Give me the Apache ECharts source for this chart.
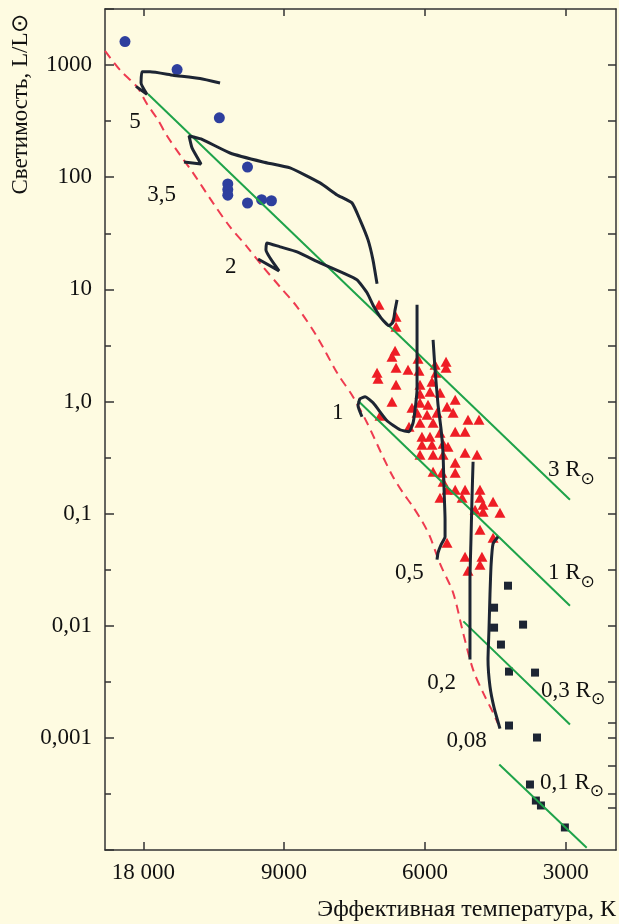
<!DOCTYPE html>
<html>
<head>
<meta charset="utf-8">
<script src="https://cdn.jsdelivr.net/npm/echarts@6/dist/echarts.min.js"></script>
<style>
  html, body { margin: 0; padding: 0; background: #fefbe1; }
  #chart { width: 619px; height: 924px; }
</style>
</head>
<body>
<div id="chart"></div>
<script>
// x: position on the temperature axis (0 = 18 000 K, 1 = 9000 K, 2 = 6000 K, 3 = 3000 K)
// y: log10(L / Lsun)
const xTicks = [0, 1, 2, 3]
const xTickLabels = ['18 000', '9000', '6000', '3000']
const yTickValues = [-3, -2, -1, 0, 1, 2, 3]
const yTickLabels = ['0,001', '0,01', '0,1', '1,0', '10', '100', '1000']
const rightTicks = [-3.621, -3.5, -3.247, -3, -2.864, -2.5, -2, -1.5, -1, -0.5, 0, 0.5, 1, 1.5, 2, 2.5, 3]

// evolutionary tracks (masses in Msun)
const track5 = [[-0.052, 2.81], [0.026, 2.74], [-0.016, 2.84], [-0.009, 2.94], [0.048, 2.94], [0.211, 2.91], [0.403, 2.88], [0.545, 2.84]]
const track35 = [[0.289, 2.136], [0.41, 2.118], [0.346, 2.261], [0.325, 2.368], [0.41, 2.341], [0.616, 2.216], [0.85, 2.136], [1.042, 2.083],
  [1.255, 1.949], [1.376, 1.842], [1.482, 1.771], [1.539, 1.62], [1.596, 1.441], [1.631, 1.263], [1.66, 1.049]]
const track2 = [[0.815, 1.27], [0.964, 1.165], [0.871, 1.352], [0.878, 1.414], [0.971, 1.379], [1.092, 1.334], [1.255, 1.236], [1.418, 1.147],
  [1.518, 1.085], [1.589, 0.969], [1.638, 0.844], [1.688, 0.746], [1.745, 0.675], [1.774, 0.71], [1.788, 0.817], [1.802, 0.906]]
const track1 = [[1.553, -0.136], [1.525, -0.038], [1.539, 0.024], [1.575, 0.042], [1.632, -0.012], [1.731, -0.172], [1.823, -0.252],
  [1.887, -0.27], [1.916, -0.19], [1.93, -0.074], [1.944, 0.104], [1.944, 0.399], [1.944, 0.702], [1.944, 0.862]]
const track05 = [[2.058, 0.55], [2.072, 0.283], [2.093, -0.029], [2.115, -0.252], [2.129, -0.475], [2.136, -0.787], [2.143, -1.054],
  [2.143, -1.206], [2.115, -1.277], [2.093, -1.349], [2.086, -1.411]]
const track02 = [[2.342, -0.537], [2.334, -0.876], [2.327, -1.233], [2.32, -1.589], [2.32, -1.946], [2.32, -2.302]]
const track008 = [[2.519, -1.206], [2.484, -1.268], [2.47, -1.455], [2.462, -1.723], [2.455, -2.034], [2.448, -2.302], [2.462, -2.542],
  [2.491, -2.73], [2.533, -2.917]]

// red dashed line
const zams = [[-0.272, 3.126], [-0.165, 2.956], [-0.045, 2.805], [0.026, 2.654], [0.104, 2.511], [0.168, 2.369], [0.261, 2.199],
  [0.353, 2.039], [0.495, 1.771], [0.616, 1.557], [0.737, 1.379], [0.85, 1.201], [0.971, 1.022], [1.092, 0.844], [1.234, 0.577],
  [1.376, 0.256], [1.489, 0.042], [1.589, -0.19], [1.702, -0.493], [1.773, -0.671], [1.844, -0.814], [1.915, -0.939], [1.986, -1.082],
  [2.036, -1.206], [2.107, -1.447], [2.2, -1.705], [2.271, -2.062], [2.342, -2.392], [2.413, -2.597], [2.484, -2.775], [2.519, -2.873]]

// constant radius lines
const radius3 = [[0.033, 2.742], [3.03, -0.876]]
const radius1 = [[1.525, 0.006], [3.03, -1.821]]
const radius03 = [[2.273, -1.961], [3.03, -2.881]]
const radius01 = [[2.528, -3.238], [3.149, -3.98]]

const hotStars = [[-0.13, 3.21], [0.24, 2.96], [0.54, 2.53], [0.74, 2.09], [0.6, 1.94], [0.6, 1.89], [0.6, 1.84], [0.74, 1.77], [0.84, 1.8], [0.91, 1.79]]
const solarStars = [[1.674, 0.862], [1.795, 0.755], [1.795, 0.666], [1.788, 0.452], [1.766, 0.398], [1.951, 0.381], [1.795, 0.3],
  [1.88, 0.283], [1.958, 0.274], [2.072, 0.327], [2.15, 0.354], [2.15, 0.3], [2.079, 0.256], [1.66, 0.256], [1.667, 0.202],
  [1.795, 0.149], [1.965, 0.149], [2.05, 0.176], [2.036, 0.086], [1.965, 0.069], [2.107, 0.078], [1.766, -0.003], [2.215, 0.015],
  [1.965, -0.012], [1.908, -0.056], [2.022, -0.029], [2.157, -0.047], [1.681, -0.128], [1.944, -0.101], [2.015, -0.119],
  [2.086, -0.101], [2.2, -0.101], [2.306, -0.163], [2.384, -0.163], [1.887, -0.225], [1.965, -0.19], [2.058, -0.19], [2.107, -0.279],
  [2.215, -0.27], [2.285, -0.27], [1.979, -0.314], [2.036, -0.314], [1.979, -0.386], [2.05, -0.386], [2.129, -0.377], [2.164, -0.404],
  [1.965, -0.475], [2.058, -0.475], [2.129, -0.475], [2.285, -0.457], [2.37, -0.475], [2.215, -0.546], [2.058, -0.627], [2.121, -0.635],
  [2.215, -0.635], [2.129, -0.716], [2.157, -0.787], [2.215, -0.787], [2.285, -0.787], [2.391, -0.787], [2.107, -0.858], [2.264, -0.858],
  [2.391, -0.858], [2.413, -0.921], [2.484, -0.894], [2.356, -0.965], [2.413, -0.983], [2.533, -0.992], [2.391, -1.143], [2.484, -1.215],
  [2.157, -1.259], [2.285, -1.384], [2.405, -1.384], [2.391, -1.456], [2.306, -1.509]]
const coolStars = [[2.59, -1.643], [2.491, -1.839], [2.491, -2.017], [2.697, -1.99], [2.54, -2.168], [2.597, -2.409], [2.782, -2.418],
  [2.597, -2.89], [2.796, -2.997], [2.746, -3.416], [2.788, -3.559], [2.824, -3.603], [2.994, -3.799]]

const massNames = ['5', '3,5', '2', '1', '0,5', '0,2', '0,08']
const massAt = [[-0.059, 2.496], [0.131, 1.842], [0.621, 1.203], [1.381, -0.103], [1.889, -1.529], [2.119, -2.51], [2.297, -3.03]]
const radiusNames = ['3 R{s|⊙}', '1 R{s|⊙}', '0,3 R{s|⊙}', '0,1 R{s|⊙}']
const radiusAt = [[2.874, -0.61], [2.874, -1.527], [2.825, -2.578], [2.817, -3.398]]

const serif = 'Liberation Serif'
const ink = '#1d2533'
const axisColor = '#333333'
const textColor = '#111111'

function trackSeries(data) {
  return {
    type: 'line', data: data, showSymbol: false, smooth: 0.15, silent: true,
    lineStyle: { color: ink, width: 3 }
  }
}
function radiusSeries(data) {
  return {
    type: 'line', data: data, showSymbol: false, silent: true,
    lineStyle: { color: '#1ea34a', width: 2 }
  }
}
function frameAxis(extra) {
  return Object.assign({
    type: 'value',
    splitLine: { show: false },
    axisLine: { onZero: false, lineStyle: { color: axisColor, width: 1.5 } }
  }, extra)
}

const sunRich = {
  s: { fontFamily: 'DejaVu Sans', fontSize: 17, color: textColor, verticalAlign: 'bottom', lineHeight: 36 }
}

let chart = echarts.init(document.getElementById('chart'))
chart.setOption({
  backgroundColor: '#fefbe1',
  animation: false,
  grid: { left: 105, right: 3, top: 9, bottom: 74 },
  xAxis: [
    frameAxis({
      min: -0.272, max: 3.357, position: 'bottom',
      axisTick: { inside: true, length: 8, customValues: xTicks, lineStyle: { color: axisColor, width: 1.5 } },
      axisLabel: {
        customValues: xTicks, margin: 11, color: textColor, fontFamily: serif, fontSize: 23,
        formatter: v => xTickLabels[xTicks.indexOf(Math.round(v))]
      }
    }),
    frameAxis({
      min: -0.272, max: 3.357, position: 'top',
      axisTick: { inside: true, length: 7, customValues: xTicks, lineStyle: { color: axisColor, width: 1.5 } },
      axisLabel: { show: false }
    })
  ],
  yAxis: [
    frameAxis({
      min: -4, max: 3.5, interval: 1, position: 'left',
      axisTick: { inside: true, length: 9, lineStyle: { color: axisColor, width: 1.5 } },
      minorTick: { show: true, splitNumber: 2, length: 6, lineStyle: { color: axisColor, width: 1.5 } },
      axisLabel: {
        margin: 13, color: textColor, fontFamily: serif, fontSize: 23,
        formatter: v => {
          let i = yTickValues.indexOf(Math.round(v))
          return (i >= 0 && Math.abs(v - Math.round(v)) < 1e-6) ? yTickLabels[i] : ''
        }
      }
    }),
    frameAxis({
      min: -4, max: 3.5, position: 'right',
      axisTick: { inside: true, length: 8, customValues: rightTicks, lineStyle: { color: axisColor, width: 1.5 } },
      axisLabel: { show: false }
    })
  ],
  graphic: [
    {
      type: 'text', x: 21, y: 104, rotation: Math.PI / 2,
      style: {
        text: 'Светимость, L/L⊙', font: '23px "Liberation Serif"', fill: textColor,
        textAlign: 'center', textVerticalAlign: 'middle'
      }
    },
    {
      type: 'text', right: 3, top: 898,
      style: { text: 'Эффективная температура, К', font: '24px "Liberation Serif"', fill: textColor }
    }
  ],
  series: [
    {
      type: 'line', data: zams, showSymbol: false, smooth: 0.3, silent: true,
      lineStyle: { color: '#ee3b50', width: 2, type: [9, 6] }
    },
    radiusSeries(radius3),
    radiusSeries(radius1),
    radiusSeries(radius03),
    radiusSeries(radius01),
    trackSeries(track5),
    trackSeries(track35),
    trackSeries(track2),
    trackSeries(track1),
    trackSeries(track05),
    trackSeries(track02),
    trackSeries(track008),
    {
      type: 'scatter', data: hotStars, symbol: 'circle', symbolSize: 11,
      itemStyle: { color: '#2e3f9e', opacity: 1 }
    },
    {
      type: 'scatter', data: solarStars, symbol: 'triangle', symbolSize: [11, 10],
      itemStyle: { color: '#ee1d25', opacity: 1 }
    },
    {
      type: 'scatter', data: coolStars, symbol: 'rect', symbolSize: 8,
      itemStyle: { color: ink, opacity: 1 }
    },
    {
      type: 'scatter', symbolSize: 0, silent: true,
      itemStyle: { opacity: 1 },
      data: massAt.map((p, i) => ({ value: p, name: massNames[i] })),
      label: { show: true, position: 'inside', formatter: p => p.name, color: textColor, fontFamily: serif, fontSize: 23 }
    },
    {
      type: 'scatter', symbolSize: 0, silent: true,
      itemStyle: { opacity: 1 },
      data: radiusAt.map((p, i) => ({ value: p, name: radiusNames[i] })),
      label: {
        show: true, position: 'right', distance: 0, formatter: p => p.name,
        color: textColor, fontFamily: serif, fontSize: 23, rich: sunRich
      }
    }
  ]
})
</script>
</body>
</html>
